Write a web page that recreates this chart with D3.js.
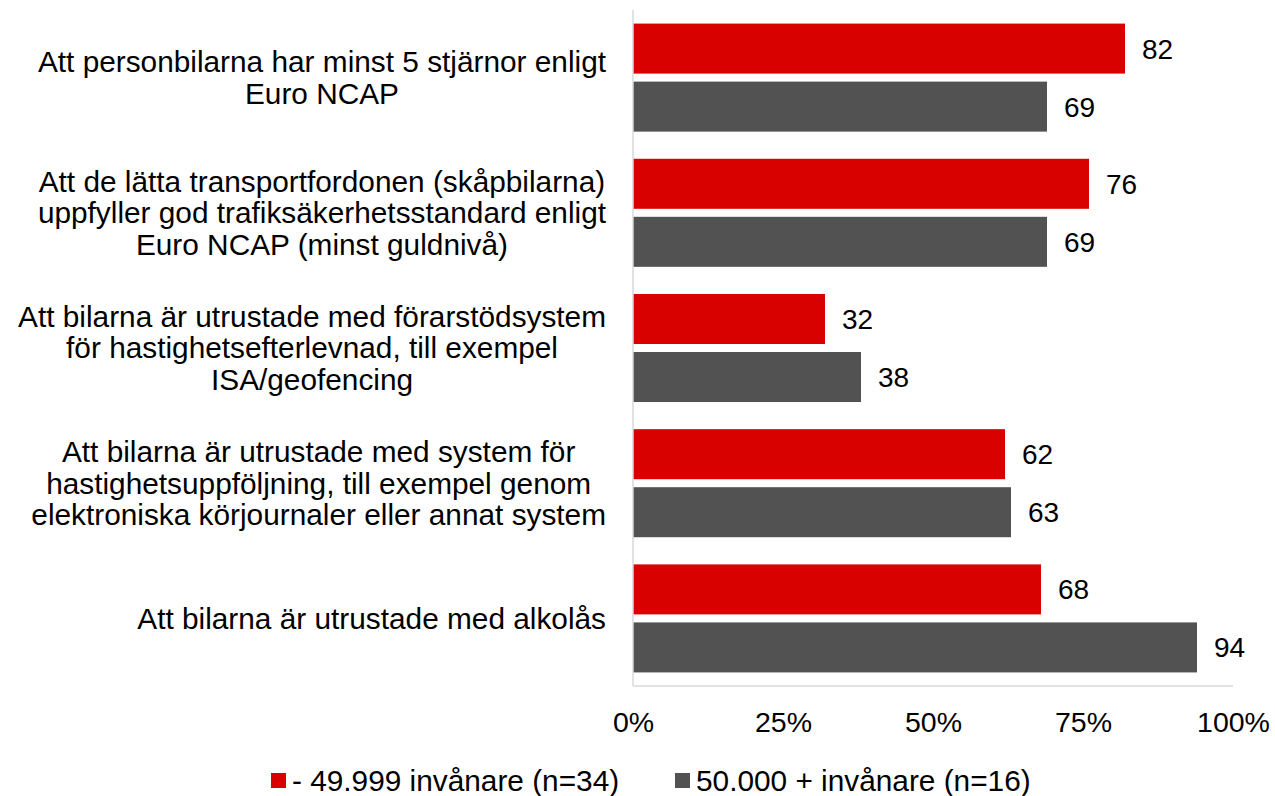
<!DOCTYPE html>
<html>
<head>
<meta charset="utf-8">
<script src="https://cdn.jsdelivr.net/npm/d3@7"></script>
<style>
  body { margin: 0; background: #fff; }
  text { font-family: "Liberation Sans", Arial, sans-serif; fill: #000; }
</style>
</head>
<body>
<script>
// categories (each entry is the wrapped lines of one label)
const categories = [
  ['Att personbilarna har minst 5 stjärnor enligt', 'Euro NCAP'],
  ['Att de lätta transportfordonen (skåpbilarna)', 'uppfyller god trafiksäkerhetsstandard enligt', 'Euro NCAP (minst guldnivå)'],
  ['Att bilarna är utrustade med förarstödsystem', 'för hastighetsefterlevnad, till exempel', 'ISA/geofencing'],
  ['Att bilarna är utrustade med system för', 'hastighetsuppföljning, till exempel genom', 'elektroniska körjournaler eller annat system'],
  ['Att bilarna är utrustade med alkolås']
];
const seriesNames = ['- 49.999 invånare (n=34)', '50.000 + invånare (n=16)'];
const small = [82, 76, 32, 62, 68];
const large = [69, 69, 38, 63, 94];
const ticks = [0, 25, 50, 75, 100];

const colors = ['#d90000', '#525252'];

const W = 1275, H = 796;
const margin = { top: 10, left: 633, right: 42, bottom: 110 };
const plotW = 1233 - margin.left;
const plotH = 686 - margin.top;

const svg = d3.select('body').append('svg')
  .attr('width', W)
  .attr('height', H);

const g = svg.append('g')
  .attr('transform', `translate(${margin.left},${margin.top})`);

const x = d3.scaleLinear().domain([0, 100]).range([0, plotW]);
const y = d3.scaleBand().domain(d3.range(categories.length)).range([0, plotH]);
const ySub = d3.scaleBand().domain([0, 1]).range([0, y.bandwidth()])
  .paddingInner(0.138).paddingOuter(0.234);

const rows = categories.map((c, i) => ({ i, values: [small[i], large[i]] }));

// bars
const grp = g.selectAll('.cat')
  .data(rows)
  .enter().append('g')
  .attr('transform', d => `translate(0,${y(d.i)})`);

grp.selectAll('rect')
  .data(d => d.values.map((v, s) => ({ v, s })))
  .enter().append('rect')
  .attr('x', 0)
  .attr('y', d => ySub(d.s))
  .attr('width', d => x(d.v))
  .attr('height', ySub.bandwidth())
  .attr('fill', d => colors[d.s]);

grp.selectAll('.val')
  .data(d => d.values.map((v, s) => ({ v, s })))
  .enter().append('text')
  .attr('class', 'val')
  .attr('x', d => x(d.v) + 17)
  .attr('y', d => ySub(d.s) + ySub.bandwidth() / 2)
  .attr('dy', '0.36em')
  .style('font-size', '28px')
  .text(d => d.v);

// axis lines
g.append('line')
  .attr('x1', 0).attr('x2', 0)
  .attr('y1', 0).attr('y2', plotH)
  .attr('stroke', '#d9d9d9').attr('stroke-width', 1.5);
g.append('line')
  .attr('x1', 0).attr('x2', plotW)
  .attr('y1', plotH).attr('y2', plotH)
  .attr('stroke', '#d9d9d9').attr('stroke-width', 1.5);

// x tick labels
const xAxis = g.append('g')
  .attr('transform', `translate(0,${plotH})`)
  .call(d3.axisBottom(x).tickValues(ticks).tickFormat(d => d + '%').tickSize(0).tickPadding(26));
xAxis.select('.domain').remove();
xAxis.selectAll('text')
  .style('font-size', '28.5px')
  .style('font-family', '"Liberation Sans", Arial, sans-serif')
  .attr('fill', '#000');

// category labels, centred lines inside a right-aligned block
const lineH = 31.5;
const labelRight = 606;
rows.forEach(d => {
  const lines = categories[d.i];
  const t = svg.append('text')
    .style('font-size', '29.8px')
    .attr('text-anchor', 'middle');
  const cy = margin.top + y(d.i) + y.bandwidth() / 2;
  const y0 = cy - (lines.length - 1) * lineH / 2;
  const spans = lines.map((l, k) => t.append('tspan')
    .attr('y', y0 + k * lineH)
    .attr('dy', '0.35em')
    .text(l));
  const maxW = d3.max(spans, s => s.node().getComputedTextLength());
  spans.forEach(s => s.attr('x', labelRight - maxW / 2));
});

// legend
const legend = svg.append('g').attr('transform', 'translate(271,773)');
const legX = [0, 404];
seriesNames.forEach((n, s) => {
  legend.append('rect')
    .attr('x', legX[s]).attr('y', 0)
    .attr('width', 15).attr('height', 15)
    .attr('fill', colors[s]);
  legend.append('text')
    .attr('x', legX[s] + 21)
    .attr('y', 7.5)
    .attr('dy', '0.36em')
    .style('font-size', '29.8px')
    .text(n);
});
</script>
</body>
</html>
